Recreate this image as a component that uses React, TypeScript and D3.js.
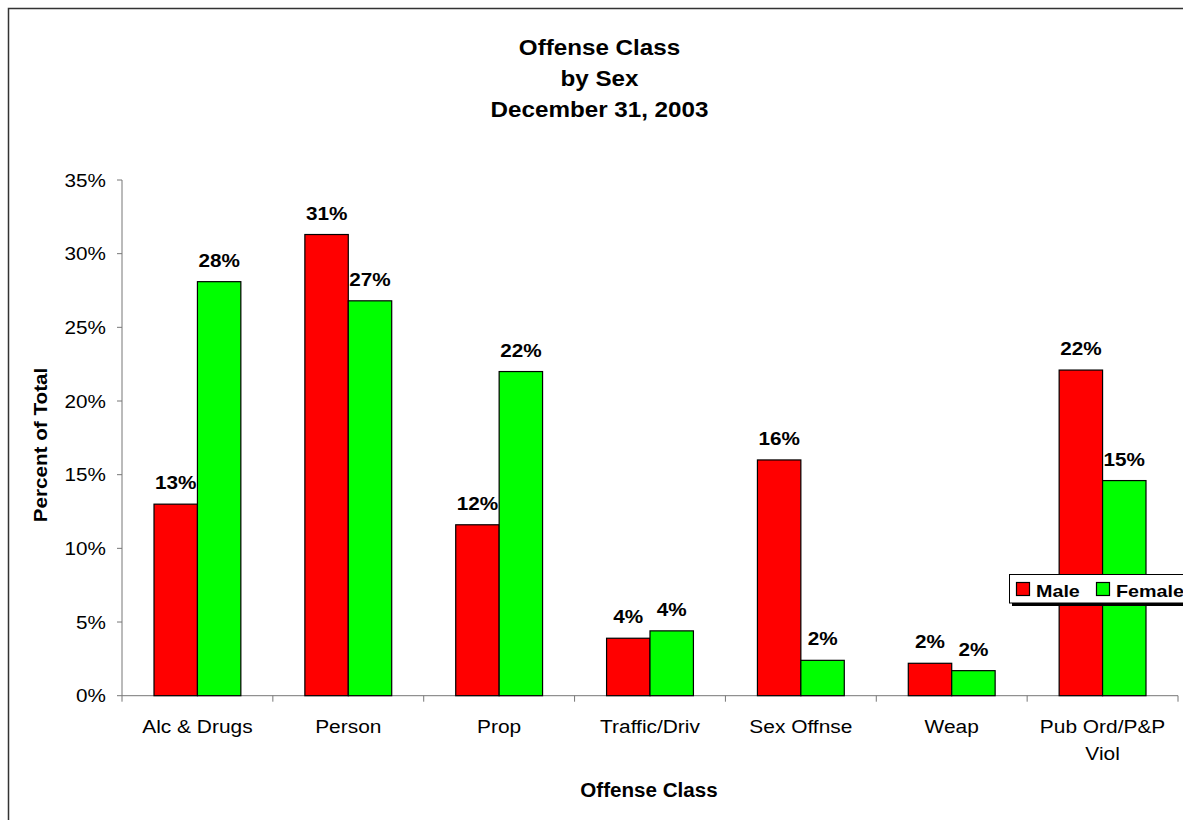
import React from 'react'
import * as d3 from 'd3'

const categories = ['Alc & Drugs', 'Person', 'Prop', 'Traffic/Driv', 'Sex Offnse', 'Weap', 'Pub Ord/P&P Viol']
const categoryLines = [['Alc & Drugs'], ['Person'], ['Prop'], ['Traffic/Driv'], ['Sex Offnse'], ['Weap'], ['Pub Ord/P&P', 'Viol']]
const seriesNames = ['Male', 'Female']
const maleValues = [13.0, 31.3, 11.6, 3.9, 16.0, 2.2, 22.1]
const femaleValues = [28.1, 26.8, 22.0, 4.4, 2.4, 1.7, 14.6]
const yTicks = [0, 5, 10, 15, 20, 25, 30, 35]
const titleLines = ['Offense Class', 'by Sex', 'December 31, 2003']
const colors = ['#ff0000', '#00ff00']

const FONT = '"Liberation Sans", Arial, sans-serif'

type TProps = {
  x: number
  y: number
  size: number
  bold?: boolean
  anchor?: 'start' | 'middle' | 'end'
  sx?: number
  rotate?: number
  children: React.ReactNode
}

const T = ({ x, y, size, bold, anchor = 'middle', sx = 1, rotate = 0, children }: TProps) => (
  <text
    transform={`translate(${x},${y}) rotate(${rotate}) scale(${sx},1)`}
    fontSize={size}
    fontWeight={bold ? 'bold' : 'normal'}
    textAnchor={anchor}
    fontFamily={FONT}
    fill="#000"
  >
    {children}
  </text>
)

export default function App() {
  const left = 122
  const right = 1178
  const top = 180
  const bottom = 695.7

  const x = d3.scaleBand<string>().domain(categories).range([left, right]).padding(0)
  const inner = d3.scaleBand<string>().domain(seriesNames).range([0, x.bandwidth()]).paddingInner(0).paddingOuter(0.737)
  const y = d3.scaleLinear().domain([0, 35]).range([bottom, top])

  const series = [maleValues, femaleValues]

  return (
    <svg
      width={1183}
      height={820}
      style={{ position: 'absolute', left: 0, top: 0, background: '#fff' }}
    >
      {/* outer frame, only top and left edges visible */}
      <path d="M8.5,830 V8.5 H1200" fill="none" stroke="#333" strokeWidth={1.5} />

      {titleLines.map((t, i) => (
        <T key={t} x={599.5} y={55 + i * 31.2} size={22} bold sx={1.1}>{t}</T>
      ))}

      {/* y axis */}
      <line x1={left} x2={left} y1={top} y2={bottom} stroke="#777" />
      {yTicks.map(v => (
        <g key={v}>
          <line x1={left - 5} x2={left} y1={y(v)} y2={y(v)} stroke="#777" />
          <T x={106} y={y(v) + 6.5} size={17.7} anchor="end" sx={1.17}>{`${v}%`}</T>
        </g>
      ))}

      {/* x axis */}
      <line x1={left} x2={right} y1={bottom} y2={bottom} stroke="#777" />
      {[...categories.map(c => x(c) as number), right].map((px, i) => (
        <line key={i} x1={px} x2={px} y1={bottom} y2={bottom + 6} stroke="#777" />
      ))}
      {categories.map((c, i) =>
        categoryLines[i].map((line, j) => (
          <T key={c + j} x={(x(c) as number) + x.bandwidth() / 2} y={733.3 + j * 26.7} size={19} sx={1.1}>{line}</T>
        ))
      )}

      {/* bars */}
      {series.map((vals, si) =>
        vals.map((v, ci) => {
          const bx = (x(categories[ci]) as number) + (inner(seriesNames[si]) as number)
          const bw = inner.bandwidth()
          return (
            <g key={`${si}-${ci}`}>
              <rect x={bx} y={y(v)} width={bw} height={bottom - y(v)} fill={colors[si]} stroke="#000" strokeWidth={1.2} />
              <T x={bx + bw / 2} y={y(v) - 15} size={18} bold sx={1.15}>{`${Math.round(v)}%`}</T>
            </g>
          )
        })
      )}

      {/* axis titles */}
      <T x={649} y={796.5} size={20} bold sx={1.03}>Offense Class</T>
      <T x={47} y={445} size={18} bold sx={1.15} rotate={-90}>Percent of Total</T>

      {/* legend */}
      <rect x={1012} y={577} width={200} height={29} fill="#000" />
      <rect x={1009.5} y={574.5} width={200} height={28.5} fill="#fff" stroke="#000" strokeWidth={1} />
      {seriesNames.map((s, i) => {
        const sxPos = i === 0 ? 1016.5 : 1096.5
        return (
          <g key={s}>
            <rect x={sxPos} y={582.5} width={13} height={13} fill={colors[i]} stroke="#000" strokeWidth={1.2} />
            <T x={sxPos + 19.5} y={597} size={17} bold anchor="start" sx={1.16}>{s}</T>
          </g>
        )
      })}
    </svg>
  )
}
